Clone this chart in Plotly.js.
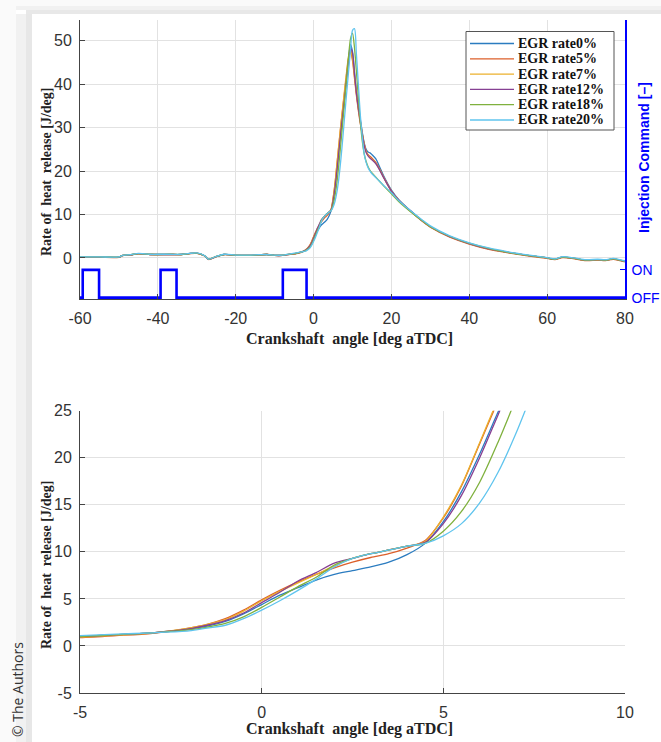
<!DOCTYPE html>
<html><head><meta charset="utf-8">
<script src="https://cdn.plot.ly/plotly-3.0.1.min.js"></script>
<style>html,body{margin:0;padding:0;background:#fff;}#chart{width:661px;height:742px;}</style>
</head><body><div id="chart"></div>
<script>
// Crank angle [deg aTDC]
const angle = [
 -60,-55,-50,-49,-47,-45,-42,-40,-37,-34,-32,-30,-28,-27,-25,-23,-20,-17,-14,-12,-10,-8,-6,
 -5,-4,-3,-2,-1.5,-1,-0.5,0,0.5,1,1.5,2,2.5,3,3.5,4,4.5,5,5.5,6,6.5,7,7.5,8,8.5,9,9.5,10,
 10.5,11,11.5,12,12.5,13,13.5,14,14.5,15,16,17,18,20,22,25,28,30,35,40,45,50,55,60,62,64,67,70,73,75,77,80
];
// Rate of heat release [J/deg]
const egr0 = [
 0.2,0.2,0.2,0.6,0.7,1.0,0.8,0.8,0.8,0.8,1.0,1.1,0.5,-0.3,0.3,0.8,0.6,0.6,0.7,0.8,0.6,0.6,0.9,
 1.0,1.2,1.4,1.8,2.1,2.6,3.4,4.4,5.4,6.2,7.0,7.6,8.0,8.4,8.9,9.7,10.9,13.2,16.4,20.4,24.8,29.0,33.0,37.0,41.5,46.0,49.2,47.5,
 43,38.5,35,32,29,26.5,25,24.4,24.2,23.8,22.8,20.9,18.9,15.6,13.3,10.8,8.5,7.2,4.9,3.3,2.1,1.3,0.6,0.0,-0.3,0.2,-0.1,-0.5,-0.4,-0.5,-0.2,-0.8
];
const egr5 = [
 0.15,0.15,0.15,0.55,0.7,0.95,0.8,0.75,0.8,0.8,1.0,1.05,0.45,-0.35,0.3,0.75,0.6,0.6,0.7,0.85,0.6,0.6,0.85,
 0.9,1.1,1.35,1.9,2.3,2.9,3.8,4.9,5.9,6.8,7.6,8.3,8.9,9.4,9.8,10.4,11.2,13.6,17.0,21.5,26.0,30.5,34.5,38.5,42.5,46.0,47.6,45.5,
 41.5,37.5,34,31,28.5,26.2,24.6,23.8,23.4,23.0,22.0,20.4,18.6,15.4,13.2,10.7,8.4,7.1,4.8,3.2,2.0,1.2,0.5,-0.1,-0.4,0.1,-0.2,-0.6,-0.5,-0.6,-0.3,-0.9
];
const egr7 = [
 0.2,0.2,0.2,0.6,0.7,1.0,0.8,0.8,0.8,0.8,1.0,1.1,0.5,-0.3,0.3,0.8,0.6,0.6,0.7,0.8,0.6,0.6,0.9,
 0.95,1.15,1.4,1.9,2.3,2.8,3.7,4.8,5.8,6.7,7.6,8.5,9.3,9.8,10.2,10.6,11.1,13.7,17.1,21.6,26.2,30.6,34.8,39.0,43.0,46.5,48.0,46.0,
 42,38,34.5,31.5,28.8,26.3,24.5,23.6,23.1,22.7,21.8,20.3,18.6,15.4,13.2,10.7,8.5,7.2,4.9,3.3,2.1,1.3,0.6,0.0,-0.3,0.2,-0.1,-0.5,-0.4,-0.5,-0.2,-0.8
];
const egr12 = [
 0.2,0.2,0.2,0.6,0.7,1.0,0.8,0.8,0.8,0.8,1.0,1.1,0.5,-0.3,0.3,0.8,0.6,0.6,0.7,0.8,0.6,0.6,0.9,
 1.0,1.2,1.4,1.8,2.2,2.7,3.5,4.6,5.7,6.9,7.8,8.8,9.3,9.8,10.2,10.6,11.0,13.0,16.0,20.0,24.5,29.0,33.0,37.0,41.5,45.5,48.3,47.2,
 42.5,38,34.5,31.5,28.5,26,24.3,23.5,23.0,22.6,21.7,20.2,18.5,15.4,13.2,10.8,8.5,7.2,4.9,3.3,2.1,1.3,0.6,0.0,-0.3,0.2,-0.1,-0.5,-0.4,-0.5,-0.2,-0.8
];
const egr18 = [
 0.25,0.25,0.25,0.6,0.75,1.0,0.85,0.8,0.85,0.8,1.0,1.1,0.5,-0.25,0.35,0.8,0.65,0.6,0.7,0.8,0.6,0.65,0.9,
 1.0,1.2,1.4,1.7,2.0,2.4,3.1,4.1,5.2,6.3,7.3,8.6,9.3,9.8,10.2,10.6,10.9,12.2,14.3,17.4,21.6,26.3,31.3,36.3,41.5,46.5,50.5,51.8,
 48.5,43,37,31.5,27,24,22.2,21,20.2,19.6,18.6,17.6,16.6,14.8,12.9,10.6,8.5,7.2,5.0,3.4,2.2,1.3,0.6,0.0,-0.3,0.2,-0.1,-0.5,-0.4,-0.5,-0.2,-0.8
];
const egr20 = [
 0.25,0.25,0.25,0.6,0.75,1.05,0.85,0.85,0.85,0.85,1.05,1.15,0.55,-0.25,0.35,0.85,0.65,0.65,0.75,0.8,0.65,0.65,0.95,
 1.1,1.25,1.4,1.6,1.9,2.2,2.9,3.8,4.8,5.9,7.1,8.4,9.3,9.8,10.2,10.6,10.9,11.7,13.0,15.2,18.4,22.6,27.5,32.8,38.0,43.0,48.0,52.4,
 52.8,47,40,33,28,24,22,20.8,20.0,19.4,18.5,17.6,16.7,15.0,13.1,10.8,8.7,7.4,5.1,3.5,2.3,1.4,0.7,0.1,-0.2,0.3,0.0,-0.4,-0.3,-0.4,-0.1,-0.7
];
const seriesNames = ['EGR rate0%','EGR rate5%','EGR rate7%','EGR rate12%','EGR rate18%','EGR rate20%'];
const seriesValues = [egr0, egr5, egr7, egr12, egr18, egr20];
// Injection command pulses [deg aTDC]
const injStart = [-59.3, -39.3, -7.9];
const injEnd = [-55.1, -35.2, -1.8];
const injLevels = [0, 1];
const injLabels = ['OFF', 'ON'];
const topXTicks = [-60,-40,-20,0,20,40,60,80];
const topYTicks = [0,10,20,30,40,50];
const botXTicks = [-5,0,5,10];
const botYTicks = [-5,0,5,10,15,20,25];

const colors = ['#2b7cc0','#dc5f2a','#ebb02c','#864093','#7fb13e','#5fc4ee'];

const W = 661, H = 742;
const px = v => v / W, py = v => 1 - v / H;
const lbl = arr => arr.map(v => String(v));

const traces = [];
seriesValues.forEach((vals, i) => {
  traces.push({x: angle, y: vals, type: 'scatter', mode: 'lines', name: seriesNames[i], showlegend: false,
    line: {color: colors[i], width: 1.3, shape: 'spline', smoothing: 0.8}, xaxis: 'x', yaxis: 'y'});
});
seriesValues.forEach((vals, i) => {
  traces.push({x: angle, y: vals, type: 'scatter', mode: 'lines', name: seriesNames[i], showlegend: false,
    line: {color: colors[i], width: 1.3, shape: 'spline', smoothing: 0.8}, xaxis: 'x2', yaxis: 'y3'});
});
// injection step trace
const ix = [angle[0]], iy = [injLevels[0]];
injStart.forEach((s, k) => {
  ix.push(s, s, injEnd[k], injEnd[k]);
  iy.push(injLevels[0], injLevels[1], injLevels[1], injLevels[0]);
});
ix.push(angle[angle.length - 1]); iy.push(injLevels[0]);
traces.push({x: ix, y: iy, type: 'scatter', mode: 'lines', showlegend: false,
  line: {color: '#0000ff', width: 2.6}, xaxis: 'x', yaxis: 'y2'});

const tickFont = {family: 'Liberation Sans Narrow, Arial Narrow, Liberation Sans, Arial', size: 16, color: '#333'};
const common = {showgrid: true, gridcolor: '#e2e2e2', gridwidth: 1, zeroline: false, showline: true,
  linecolor: '#444', linewidth: 1, ticks: 'inside', ticklen: 5, tickcolor: '#444', tickfont: tickFont, mirror: false};

const serif = 'Liberation Serif, Times New Roman, serif';
const xTitleFont = {family: serif, size: 16, color: '#222', weight: 'bold'};
const yTitleFont = {family: serif, size: 14, color: '#222', weight: 'bold'};
const gray = [
  {x0: 0, x1: 16, y0: 0, y1: H, c: '#fafafa'},
  {x0: 16, x1: 26, y0: 14, y1: H, c: '#f1f1f1'},
  {x0: 26, x1: 32, y0: 14, y1: H, c: '#e7e7e7'},
  {x0: 16, x1: W, y0: 0, y1: 6, c: '#fafafa'},
  {x0: 16, x1: W, y0: 6, y1: 10, c: '#f1f1f1'},
  {x0: 26, x1: W, y0: 10, y1: 14, c: '#e8e8e8'}
];

const shapes = gray.map(g => ({type: 'rect', xref: 'paper', yref: 'paper', layer: 'below',
  x0: px(g.x0), x1: px(g.x1), y0: py(g.y1), y1: py(g.y0), fillcolor: g.c, line: {width: 0}}));
// legend box
shapes.push({type: 'rect', xref: 'paper', yref: 'paper', layer: 'above',
  x0: px(466), x1: px(614), y0: py(130), y1: py(31.5), fillcolor: '#ffffff', line: {color: '#555', width: 1}});
const annotations = [];
seriesNames.forEach((n, i) => {
  const yy = 43.5 + 15.3 * i;
  shapes.push({type: 'line', xref: 'paper', yref: 'paper', layer: 'above',
    x0: px(470), x1: px(514), y0: py(yy), y1: py(yy), line: {color: colors[i], width: 1.3}});
  annotations.push({text: n, xref: 'paper', yref: 'paper', x: px(516), y: py(yy), showarrow: false,
    xanchor: 'left', yanchor: 'middle', font: {family: serif, size: 14, color: '#111', weight: 'bold'}});
});
annotations.push(
  {text: 'Crankshaft\u00a0 angle [deg aTDC]', xref: 'paper', yref: 'paper', x: px(350), y: py(339), showarrow: false, font: xTitleFont, xanchor: 'center', yanchor: 'middle'},
  {text: 'Crankshaft\u00a0 angle [deg aTDC]', xref: 'paper', yref: 'paper', x: px(350), y: py(729), showarrow: false, font: xTitleFont, xanchor: 'center', yanchor: 'middle'},
  {text: 'Rate of\u00a0 heat\u00a0 release [J/deg]', xref: 'paper', yref: 'paper', x: px(46), y: py(172), showarrow: false, font: yTitleFont, textangle: -90, xanchor: 'center', yanchor: 'middle'},
  {text: 'Rate of\u00a0 heat\u00a0 release [J/deg]', xref: 'paper', yref: 'paper', x: px(46), y: py(565), showarrow: false, font: yTitleFont, textangle: -90, xanchor: 'center', yanchor: 'middle'},
  {text: 'Injection Command [–]', xref: 'paper', yref: 'paper', x: px(644), y: py(158), showarrow: false,
    font: {family: 'Liberation Sans, Arial', size: 14, color: '#0000ff', weight: 'bold'}, textangle: -90, xanchor: 'center', yanchor: 'middle'},
  {text: '© The Authors', xref: 'paper', yref: 'paper', x: px(17), y: py(690), showarrow: false,
    font: {family: 'Open Sans, Noto Sans, sans-serif', size: 14, color: '#333'}, textangle: -90, xanchor: 'center', yanchor: 'middle'}
);

const layout = {
  width: W, height: H,
  margin: {l: 0, r: 0, t: 0, b: 0},
  paper_bgcolor: '#ffffff', plot_bgcolor: '#ffffff',
  showlegend: false,
  xaxis: Object.assign({}, common, {domain: [px(80), px(625)], range: [-60, 80], tickvals: topXTicks, ticktext: lbl(topXTicks), anchor: 'y', ticklabelstandoff: 5}),
  yaxis: Object.assign({}, common, {domain: [py(299), py(20)], range: [-9.45, 54.8], tickvals: topYTicks, ticktext: lbl(topYTicks), anchor: 'x', ticklabelstandoff: 4}),
  yaxis2: {overlaying: 'y', side: 'right', anchor: 'x', range: [-0.05, 10.0], tickvals: injLevels, ticktext: injLabels,
    showgrid: false, zeroline: false, showline: true, linecolor: '#0000ff', linewidth: 1.5,
    ticks: 'inside', ticklen: 5, tickcolor: '#0000ff',
    tickfont: {family: 'Liberation Sans, Arial', size: 14, color: '#0000ff'}, ticklabelstandoff: 2},
  xaxis2: Object.assign({}, common, {domain: [px(80), px(625)], range: [-5, 10], tickvals: botXTicks, ticktext: lbl(botXTicks), anchor: 'y3', ticklabelstandoff: 5}),
  yaxis3: Object.assign({}, common, {domain: [py(693), py(410.7)], range: [-5, 25], tickvals: botYTicks, ticktext: lbl(botYTicks), anchor: 'x2', ticklabelstandoff: 4}),
  shapes: shapes,
  annotations: annotations
};

Plotly.newPlot('chart', traces, layout, {displayModeBar: false, responsive: false});
</script>
</body></html>
